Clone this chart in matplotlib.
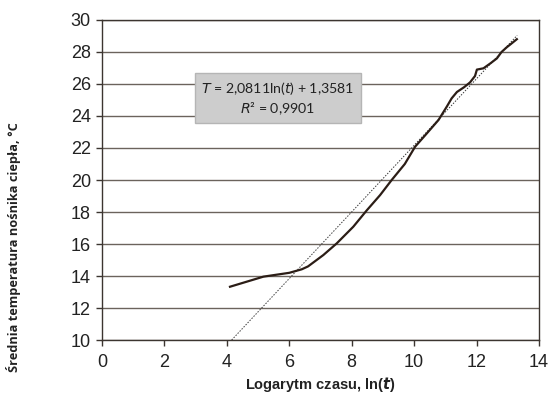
import matplotlib.pyplot as plt
import numpy as np

ln_t = [4.10, 5.17, 6.00, 6.40, 6.60, 7.09, 7.52, 8.05, 8.48, 8.91, 9.28, 9.70,
        10.03, 10.40, 10.78, 11.05, 11.20, 11.37, 11.60, 11.79, 11.95, 12.01,
        12.22, 12.45, 12.65, 12.80, 12.97, 13.10, 13.29]
temp = [13.33, 13.96, 14.20, 14.42, 14.60, 15.31, 16.04, 17.08, 18.10, 19.06, 20.0, 21.0,
        22.08, 22.90, 23.75, 24.60, 25.10, 25.50, 25.80, 26.10, 26.50, 26.90,
        26.98, 27.30, 27.60, 28.00, 28.30, 28.50, 28.80]
a, b = 2.0811, 1.3581
trend_x = [(10 - b) / a, 13.3]
x_ticks = [0, 2, 4, 6, 8, 10, 12, 14]
y_ticks = [10, 12, 14, 16, 18, 20, 22, 24, 26, 28, 30]

fig = plt.figure(figsize=(5.53, 3.95), dpi=100)
ax = fig.add_axes([0.1845, 0.1392, 0.7902, 0.8102])

ax.plot(ln_t, temp, color='#2b1d16', lw=1.6, zorder=3)
tx = np.array(trend_x)
ax.plot(tx, a * tx + b, color='#3a3a3a', lw=0.7, ls=(0, (1.5, 1.5)), zorder=2)

ax.set_xlim(0, 14)
ax.set_ylim(10, 30)
ax.set_xticks(x_ticks)
ax.set_yticks(y_ticks)
ax.yaxis.grid(True, color='#6b635c', lw=1.0)
ax.set_axisbelow(True)
for s in ax.spines.values():
    s.set_color('#3c3530')
    s.set_linewidth(1.0)
ax.tick_params(direction='out', length=4, width=1, color='#3c3530',
               labelsize=13, labelcolor='#222222',
               labelfontfamily='Liberation Sans')
ax.tick_params(axis='x', pad=6)
ax.tick_params(axis='y', pad=4)

ax.set_xlabel(r'Logarytm czasu, ln($\boldsymbol{t}$)', fontsize=10.5, fontweight='bold',
              family='Liberation Sans', color='#222222', labelpad=3)
ax.set_ylabel('Średnia temperatura nośnika ciepła, °C', fontsize=9.2, fontweight='bold',
              family='Open Sans', color='#222222')
ax.yaxis.set_label_coords(-0.185, 0.29)

ax.text(5.64, 25.12, '$T$ = 2,0811ln($t$) + 1,3581\n$R$² = 0,9901', ha='center', va='center',
        fontsize=10.2, family='Lato', color='#222222', linespacing=1.25,
        math_fontfamily='dejavusans',
        bbox=dict(boxstyle='square,pad=0.45', fc='#cdcdcd', ec='#b5b5b5', lw=1))

fig.savefig('out.png', dpi=100)
